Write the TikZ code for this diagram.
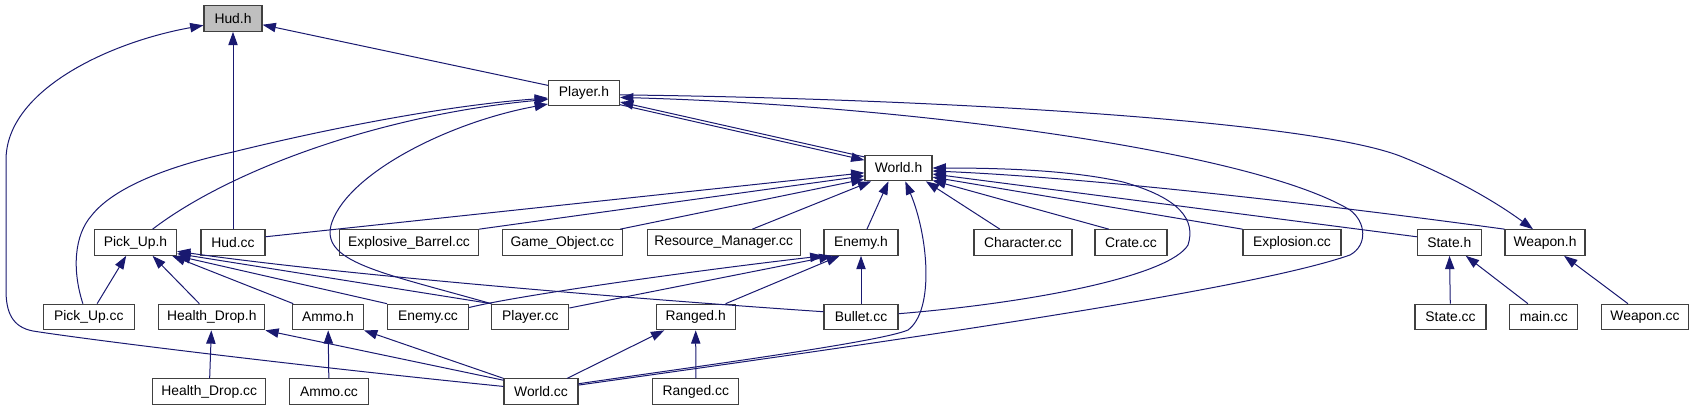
\documentclass[tikz,border=0pt]{standalone}
\usepackage{fontspec}
\setmainfont{Liberation Sans}
\usetikzlibrary{arrows.meta}
\definecolor{edgeblue}{HTML}{191970}
\definecolor{boxgray}{HTML}{404040}
\definecolor{rootfill}{HTML}{BFBFBF}
\begin{document}
\begin{tikzpicture}[x=0.75pt,y=-0.75pt,
  file/.style={draw=boxgray, fill=white, line width=0.8pt, minimum height=19.2pt,
    inner sep=0pt, font=\fontsize{10.4}{12}\selectfont, minimum width=#1*0.75pt},
  root/.style={file=#1, fill=rootfill},
  inc/.style={draw=edgeblue, line width=0.75pt, -{Triangle[length=10pt,width=7pt]}}]
\useasboundingbox (0,0) rectangle (1694,411);
% nodes
\node[root=58] (hudh) at (233,18.5) {Hud.h};
\node[file=71] (playerh) at (584,93) {Player.h};
\node[file=67] (worldh) at (898.5,168) {World.h};
\node[file=82] (pickuph) at (135.5,242.5) {Pick\_Up.h};
\node[file=64] (hudcc) at (233,242.5) {Hud.cc};
\node[file=139] (explbarrel) at (409,242.5) {Explosive\_Barrel.cc};
\node[file=120] (gameobj) at (562.3,242.5) {Game\_Object.cc};
\node[file=153] (resmgr) at (723.7,242.5) {Resource\_Manager.cc};
\node[file=74] (enemyh) at (861,242.5) {Enemy.h};
\node[file=98] (charcc) at (1023,242.5) {Character.cc};
\node[file=72] (cratecc) at (1131,242.5) {Crate.cc};
\node[file=98] (explcc) at (1292,242.5) {Explosion.cc};
\node[file=64] (stateh) at (1449.3,242.5) {State.h};
\node[file=80] (weaponh) at (1545,242.5) {Weapon.h};
\node[file=91] (pickupcc) at (88.8,317) {Pick\_Up.cc};
\node[file=106] (healthdroph) at (211.8,317) {Health\_Drop.h};
\node[file=71] (ammoh) at (328,317) {Ammo.h};
\node[file=81] (enemycc) at (428,317) {Enemy.cc};
\node[file=77] (playercc) at (530.3,317) {Player.cc};
\node[file=79] (rangedh) at (695.7,317) {Ranged.h};
\node[file=74] (bulletcc) at (861,317) {Bullet.cc};
\node[file=71] (statecc) at (1450.5,317) {State.cc};
\node[file=68] (maincc) at (1543.8,317) {main.cc};
\node[file=87] (weaponcc) at (1645,317) {Weapon.cc};
\node[file=113] (healthdropcc) at (209.2,391.7) {Health\_Drop.cc};
\node[file=79] (ammocc) at (329,391.7) {Ammo.cc};
\node[file=74] (worldcc) at (541,391.7) {World.cc};
\node[file=86] (rangedcc) at (695.8,391.7) {Ranged.cc};
% edges to Hud.h
\draw[inc] (playerh) -- (hudh);
\draw[inc] (hudcc) -- (hudh);
\draw[inc] (worldcc.172) .. controls (300,366) and (90,340) .. (33,331)
  .. controls (12,327) and (6,312) .. (6,290) -- (6,160)
  .. controls (6,90) and (110,42) .. (hudh.193);
% edges to Player.h
\draw[inc] (worldh.162) -- (playerh.-14);
\draw[inc] (pickuph.38) .. controls (230,170) and (380,115) .. (playerh.190);
\draw[inc] (pickupcc.114) .. controls (72,270) and (74,235) .. (92,215)
  .. controls (112,190) and (160,168) .. (233,152)
  .. controls (330,128) and (450,105) .. (playerh.188);
\draw[inc] (playercc.north west) .. controls (380,272) and (318,262) .. (332,222)
  .. controls (350,172) and (450,122) .. (playerh.197);
\draw[inc] (worldcc.10) .. controls (900,340) and (1250,290) .. (1350,255)
  .. controls (1368,245) and (1366,222) .. (1350,210)
  .. controls (1250,150) and (900,105) .. (playerh.-7);
% edge to Weapon.h
\draw[inc] (playerh.-3) .. controls (900,98) and (1300,118) .. (1400,156)
  .. controls (1460,180) and (1500,205) .. (weaponh.132);
\draw[inc] (weaponcc.142) -- (weaponh.-35);
% edges to World.h
\draw[inc] (playerh.-18) -- (worldh.167);
\draw[inc] (hudcc.10) -- (worldh.188);
\draw[inc] (explbarrel.north east) -- (worldh.193);
\draw[inc] (gameobj.13) -- (worldh.198);
\draw[inc] (resmgr.25) -- (worldh.206);
\draw[inc] (enemyh.66) -- (worldh.233);
\draw[inc] (worldcc.12) .. controls (700,366) and (880,342) .. (908,330)
  .. controls (935,310) and (928,235) .. (worldh.-63);
\draw[inc] (charcc.150) -- (worldh.-26);
\draw[inc] (cratecc.149) -- (worldh.-20);
\draw[inc] (explcc.north west) -- (worldh.-15);
\draw[inc] (stateh.170) -- (worldh.-10);
\draw[inc] (weaponh.north west) .. controls (1350,208) and (1100,178) .. (worldh.-5);
\draw[inc] (bulletcc.5) .. controls (1040,302) and (1170,275) .. (1188,245)
  .. controls (1196,220) and (1180,198) .. (1123,182)
  .. controls (1070,170) and (1000,168) .. (worldh.0);
% edges to Pick_Up.h
\draw[inc] (pickupcc.58) -- (pickuph.235);
\draw[inc] (healthdroph.133) -- (pickuph.-38);
\draw[inc] (ammoh.159) -- (pickuph.-20);
\draw[inc] (enemycc.north west) -- (pickuph.south east);
\draw[inc] (playercc.north west) -- (pickuph.-15);
\draw[inc] (bulletcc.172) .. controls (650,300) and (350,276) .. (pickuph.-12);
% edges to Enemy.h
\draw[inc] (enemycc.13) .. controls (520,295) and (700,270) .. (enemyh.south west);
\draw[inc] (playercc.13) -- (enemyh.205);
\draw[inc] (rangedh.24) -- (enemyh.212);
\draw[inc] (bulletcc) -- (enemyh);
% edges to Ranged.h
\draw[inc] (worldcc.27) -- (rangedh.203);
\draw[inc] (rangedcc) -- (rangedh);
% edges to Health_Drop.h and Ammo.h
\draw[inc] (healthdropcc) -- (healthdroph);
\draw[inc] (worldcc.163) -- (healthdroph.south east);
\draw[inc] (worldcc.north west) -- (ammoh.south east);
\draw[inc] (ammocc) -- (ammoh);
% edges to State.h
\draw[inc] (statecc) -- (stateh);
\draw[inc] (maincc.140) -- (stateh.-39);
\end{tikzpicture}
\end{document}
